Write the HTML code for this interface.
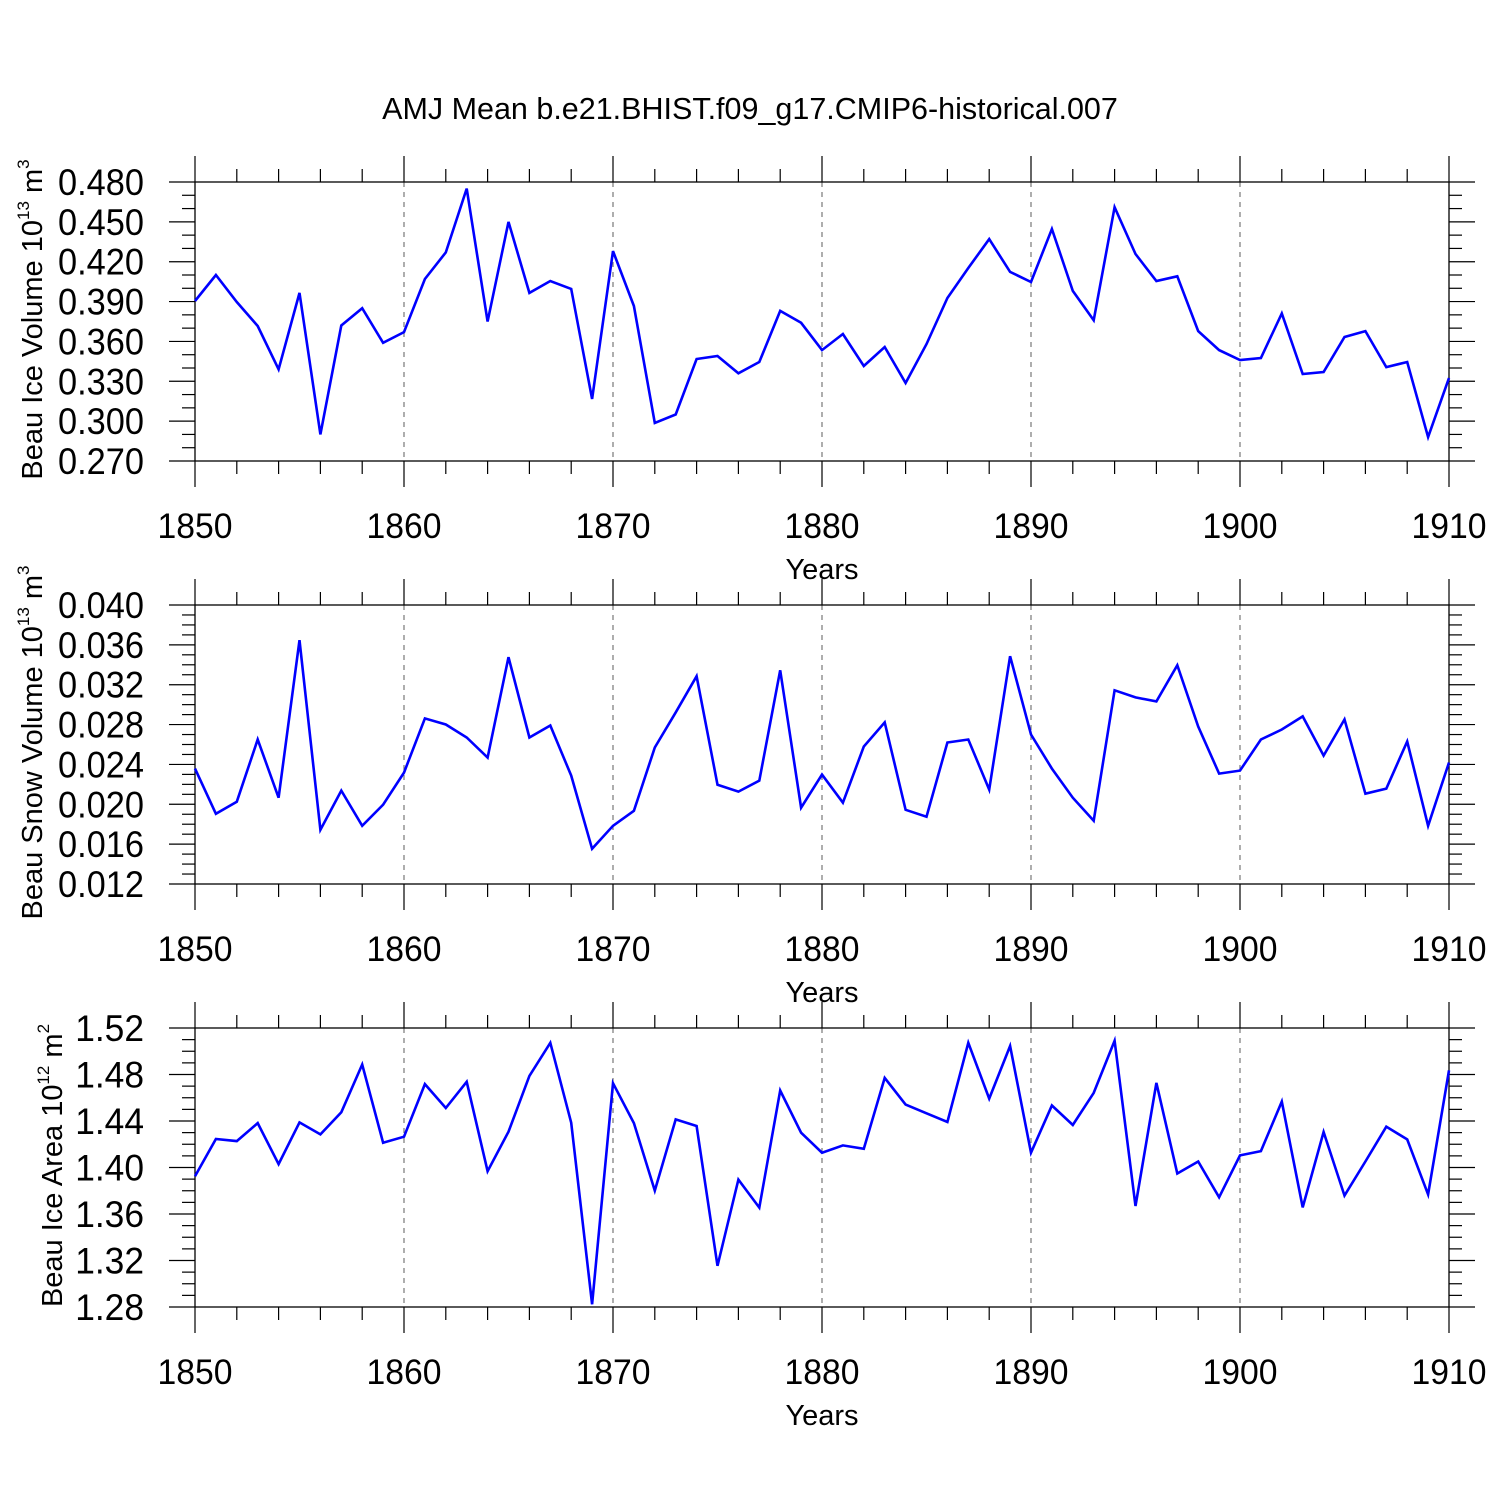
<!DOCTYPE html>
<html><head><meta charset="utf-8"><style>
html,body{margin:0;padding:0;background:#fff;}
svg{display:block;font-family:"Liberation Sans",sans-serif;}
</style></head><body>
<svg id="chart" width="1500" height="1500" viewBox="0 0 1500 1500" xmlns="http://www.w3.org/2000/svg">
<text x="750" y="119" text-anchor="middle" font-size="30.5">AMJ Mean b.e21.BHIST.f09_g17.CMIP6-historical.007</text>
</svg>
<script>
const years = [];
for (let y = 1850; y <= 1910; y++) years.push(y);
const iceVolume = [0.3904,0.410,0.3897,0.3716,0.339,0.3965,0.290,0.372,0.385,0.359,0.367,0.407,0.427,0.475,0.375,0.450,0.3965,0.4055,0.3995,0.3167,0.428,0.3867,0.2986,0.305,0.3468,0.349,0.336,0.3445,0.383,0.374,0.3535,0.3656,0.3415,0.3558,0.3287,0.358,0.3927,0.4153,0.437,0.4123,0.4047,0.4446,0.398,0.376,0.461,0.4258,0.4055,0.409,0.3678,0.3535,0.346,0.3475,0.381,0.3355,0.337,0.3633,0.3678,0.3407,0.3445,0.288,0.3325];
const snowVolume = [0.02358,0.01905,0.02026,0.0265,0.02066,0.03647,0.01744,0.02137,0.01784,0.01996,0.02318,0.02862,0.02801,0.0267,0.02469,0.03476,0.0267,0.02791,0.02288,0.01553,0.01784,0.01935,0.0257,0.02922,0.03285,0.02197,0.02127,0.02237,0.03345,0.01966,0.02298,0.02016,0.0258,0.02822,0.01945,0.01875,0.0262,0.0265,0.02147,0.03486,0.027,0.02358,0.02066,0.01835,0.03144,0.03073,0.03033,0.03396,0.02781,0.02308,0.02338,0.0265,0.02751,0.02882,0.02489,0.02852,0.02106,0.02157,0.0263,0.01784,0.02419];
const iceArea = [1.3925,1.4245,1.4227,1.4382,1.4029,1.4388,1.4285,1.4475,1.4886,1.4213,1.4265,1.4717,1.4512,1.4737,1.3968,1.4308,1.4788,1.5073,1.4385,1.2823,1.4725,1.4382,1.3801,1.4414,1.4357,1.3154,1.3896,1.3655,1.4662,1.4299,1.4127,1.419,1.4161,1.4771,1.4541,1.4466,1.4391,1.5073,1.4593,1.5045,1.4127,1.4533,1.4366,1.4642,1.509,1.3669,1.4728,1.3948,1.4052,1.3744,1.4104,1.4141,1.4567,1.3657,1.4305,1.3758,1.4052,1.4351,1.4242,1.3769,1.4835];
const xTickLabels = ["1850","1860","1870","1880","1890","1900","1910"];
const iceVolTicks = ["0.270","0.300","0.330","0.360","0.390","0.420","0.450","0.480"];
const snowVolTicks = ["0.012","0.016","0.020","0.024","0.028","0.032","0.036","0.040"];
const iceAreaTicks = ["1.28","1.32","1.36","1.40","1.44","1.48","1.52"];

const NS = "http://www.w3.org/2000/svg";
const svg = document.getElementById('chart');
const X0 = 195, X1 = 1449, XMIN = 1850, XMAX = 1910;
function xs(v){ return X0 + (v - XMIN) / (XMAX - XMIN) * (X1 - X0); }
function mk(tag, attrs, parent){
  const e = document.createElementNS(NS, tag);
  for (const k in attrs) e.setAttribute(k, attrs[k]);
  (parent || svg).appendChild(e);
  return e;
}
function panel(name, top, ymin, ymax, minorStep, ticks, data, titleMain, sup, unit, unitSup, titleX){
  const bot = top + 279;
  const g = mk('g', {});
  
  
  const ys = v => bot - (v - ymin) / (ymax - ymin) * (bot - top);
  for (let yr = 1860; yr <= 1900; yr += 10) {
    const l = mk('line', {x1: xs(yr), x2: xs(yr), y1: top, y2: bot, stroke: '#777', 'stroke-width': 1.2, 'stroke-dasharray': '5,5'}, g);
    
    
  }
  for (let yr = 1850; yr <= 1910; yr += 2) {
    const major = (yr % 10 === 0);
    const L = major ? 26 : 13;
    mk('line', {x1: xs(yr), x2: xs(yr), y1: top - L, y2: top, stroke: '#000', 'stroke-width': 1.2}, g);
    mk('line', {x1: xs(yr), x2: xs(yr), y1: bot, y2: bot + L, stroke: '#000', 'stroke-width': 1.2}, g);
  }
  const n = Math.round((ymax - ymin) / minorStep);
  const perMajor = Math.round((ymax - ymin) / (ticks.length - 1) / minorStep);
  for (let i = 0; i <= n; i++) {
    const v = ymin + i * minorStep;
    const major = (i % perMajor === 0);
    const L = major ? 26 : 13;
    mk('line', {x1: X0 - L, x2: X0, y1: ys(v), y2: ys(v), stroke: '#000', 'stroke-width': 1.2}, g);
    mk('line', {x1: X1, x2: X1 + L, y1: ys(v), y2: ys(v), stroke: '#000', 'stroke-width': 1.2}, g);
  }
  const fr = mk('rect', {x: X0, y: top, width: X1 - X0, height: bot - top, fill: 'none', stroke: '#000', 'stroke-width': 1.3}, g);
  
  
  ticks.forEach((t, i) => {
    const v = ymin + i * (ymax - ymin) / (ticks.length - 1);
    const tx = mk('text', {x: 144, y: ys(v) + 13, 'text-anchor': 'end', 'font-size': 37, textLength: t.length * 17.2, lengthAdjust: 'spacingAndGlyphs'}, g);
    
    
    tx.textContent = t;
  });
  xTickLabels.forEach((t) => {
    const tx = mk('text', {x: xs(+t), y: bot + 77, 'text-anchor': 'middle', 'font-size': 35, textLength: 75, lengthAdjust: 'spacingAndGlyphs'}, g);
    
    
    tx.textContent = t;
  });
  const xt = mk('text', {x: 822, y: bot + 118, 'text-anchor': 'middle', 'font-size': 29}, g);
  
  
  xt.textContent = 'Years';
  const cy = (top + bot) / 2 - 2;
  const yt = mk('text', {x: 0, y: 0, 'text-anchor': 'middle', 'font-size': 29, transform: 'translate(' + titleX + ',' + cy + ') rotate(-90)'}, g);
  
  
  const a = mk('tspan', {}, yt); a.textContent = titleMain;
  const b = mk('tspan', {'font-size': 17, dy: -13}, yt); b.textContent = sup;
  const c = mk('tspan', {dy: 13}, yt); c.textContent = unit;
  const d = mk('tspan', {'font-size': 17, dy: -13}, yt); d.textContent = unitSup;
  const pts = data.map((v, i) => xs(years[i]).toFixed(1) + ',' + ys(v).toFixed(1)).join(' ');
  const pl = mk('polyline', {points: pts, fill: 'none', stroke: '#0000ff', 'stroke-width': 2.6, 'stroke-linejoin': 'miter'}, g);
  
  
}
panel('ice-volume', 182, 0.27, 0.48, 0.01, iceVolTicks, iceVolume, 'Beau Ice Volume 10', '13', ' m', '3', 42);
panel('snow-volume', 605, 0.012, 0.040, 0.001, snowVolTicks, snowVolume, 'Beau Snow Volume 10', '13', ' m', '3', 42);
panel('ice-area', 1028, 1.28, 1.52, 0.01, iceAreaTicks, iceArea, 'Beau Ice Area 10', '12', ' m', '2', 62);
</script>
</body></html>
